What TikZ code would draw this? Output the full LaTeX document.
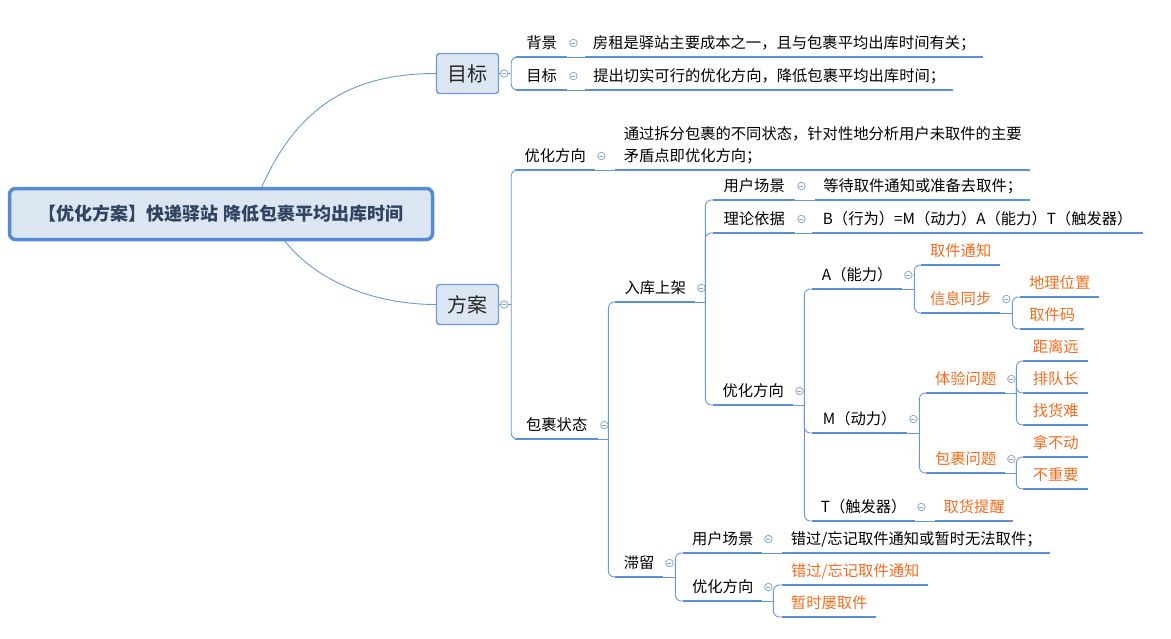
\documentclass[tikz,border=0pt]{standalone}
\usepackage{fontspec}
\setmainfont{Noto Sans CJK SC}
\usetikzlibrary{calc}
\definecolor{ulcol}{RGB}{91,143,214}
\definecolor{lncol}{RGB}{105,152,215}
\definecolor{boxfill}{RGB}{220,230,242}
\definecolor{rootbd}{RGB}{86,138,212}
\definecolor{boxbd}{RGB}{110,155,215}
\definecolor{roottxt}{RGB}{48,68,98}
\definecolor{orng}{RGB}{242,108,30}
\definecolor{cbcol}{RGB}{140,165,205}
\begin{document}
\begin{tikzpicture}[x=1pt,y=-1pt,
  topic/.style={anchor=south west, inner xsep=0pt, inner ysep=0pt, text height=12pt, text depth=8.3pt,
    font=\fontsize{15.3pt}{22pt}\selectfont, text=black},
  otopic/.style={topic, text=orng},
  ulline/.style={draw=ulcol, line width=2.8pt},
  conn/.style={draw=lncol, line width=0.9pt},
  brace/.style={conn, rounded corners=6pt},
  root/.style={draw=rootbd, line width=3.5pt, fill=boxfill, rounded corners=6pt,
    minimum width=423pt, minimum height=51pt, text=roottxt, font=\fontsize{18pt}{20pt}\selectfont\bfseries},
  mainbox/.style={draw=boxbd, line width=1.4pt, fill=boxfill, rounded corners=3pt,
    minimum width=62pt, minimum height=40pt, font=\fontsize{20pt}{24pt}\selectfont, text=black!85},
  cb/.style={circle, draw=cbcol, fill=white, line width=0.8pt, minimum size=7.5pt, inner sep=0pt,
    path picture={\draw[cbcol, line width=0.8pt] ([xshift=-2pt]path picture bounding box.center) -- ([xshift=2pt]path picture bounding box.center);}}
]
\useasboundingbox (0,0) rectangle (1171,638);

% root and main boxes
\node[root] (root) at (221,214) {【优化方案】快递驿站 降低包裹平均出库时间};
\node[mainbox] (mu) at (467.5,73.5) {目标};
\node[mainbox] (fa) at (467.5,304.5) {方案};

% topics
\node[topic, minimum width=51pt] (bj) at (516,57) {背景};
\node[topic, minimum width=398pt] (bjc) at (585,57) {房租是驿站主要成本之一，且与包裹平均出库时间有关；};
\node[topic, minimum width=51pt] (mb) at (516,90) {目标};
\node[topic, minimum width=368pt] (mbc) at (585,90) {提出切实可行的优化方向，降低包裹平均出库时间；};

\node[topic, minimum width=80pt] (fa1) at (515,170) {优化方向};
\node[topic, minimum width=415pt, align=left] (fa1c) at (615,170) {通过拆分包裹的不同状态，针对性地分析用户未取件的主要\\矛盾点即优化方向；};
\node[topic, minimum width=83pt] (fa2) at (515,439) {包裹状态};

\node[topic, minimum width=80pt] (rk) at (615,302) {入库上架};
\node[topic, minimum width=48pt] (zl) at (615,577) {滞留};

\node[topic, minimum width=82pt] (rk1) at (713,200) {用户场景};
\node[topic, minimum width=215pt] (rk1c) at (815,200) {等待取件通知或准备去取件；};
\node[topic, minimum width=82pt] (rk2) at (713,233) {理论依据};
\node[topic, minimum width=331pt] (rk2c) at (812,233) {B（行为）=M（动力）A（能力）T（触发器）};
\node[topic, minimum width=80pt] (rk3) at (713,405) {优化方向};

\node[topic, minimum width=90pt] (A) at (812,289) {A（能力）};
\node[topic, minimum width=95pt] (M) at (812,433) {M（动力）};
\node[topic, minimum width=103pt] (T) at (812,521) {T（触发器）};
\node[otopic, minimum width=78pt] (Tc) at (935,521) {取货提醒};

\node[otopic, minimum width=79pt] (A1) at (921,265) {取件通知};
\node[otopic, minimum width=79pt] (A2) at (921,313) {信息同步};
\node[otopic, minimum width=79pt] (A21) at (1020,297) {地理位置};
\node[otopic, minimum width=64pt] (A22) at (1020,329) {取件码};

\node[otopic, minimum width=79pt] (M1) at (926,393) {体验问题};
\node[otopic, minimum width=79pt] (M2) at (926,473) {包裹问题};
\node[otopic, minimum width=65pt] (M11) at (1023,361) {距离远};
\node[otopic, minimum width=65pt] (M12) at (1023,393) {排队长};
\node[otopic, minimum width=65pt] (M13) at (1023,425) {找货难};
\node[otopic, minimum width=65pt] (M21) at (1023,457) {拿不动};
\node[otopic, minimum width=65pt] (M22) at (1023,489) {不重要};

\node[topic, minimum width=79pt] (zl1) at (683,553) {用户场景};
\node[topic, minimum width=268pt] (zl1c) at (782,553) {错过/忘记取件通知或暂时无法取件；};
\node[topic, minimum width=79pt] (zl2) at (683,601) {优化方向};
\node[otopic, minimum width=146pt] (zl21) at (782,585) {错过/忘记取件通知};
\node[otopic, minimum width=94pt] (zl22) at (782,617) {暂时屡取件};

% underlines
\foreach \n in {bj,bjc,mb,mbc,fa1,fa1c,fa2,rk,zl,rk1,rk1c,rk2,rk2c,rk3,A,M,T,Tc,A1,A2,A21,A22,M1,M2,M11,M12,M13,M21,M22,zl1,zl1c,zl2,zl21,zl22}
  \draw[ulline] (\n.south west) -- (\n.south east);

% root curves
\draw[conn] ($(root.north west)!0.596!(root.north east)$) .. controls (300,100) and (360,73.5) .. (mu.west);
\draw[conn] ($(root.south west)!0.65!(root.south east)$) .. controls (320,285) and (380,304.5) .. (fa.west);

% single-child connectors
\foreach \a/\b in {bj/bjc,mb/mbc,fa1/fa1c,rk1/rk1c,rk2/rk2c,T/Tc,zl1/zl1c}
  \draw[conn] (\a.south east) -- (\b.south west);

% brace connectors
\draw[conn] (mu.east) -- ++(12,0) coordinate (jmu);
\foreach \c in {bj,mb} \draw[brace] (jmu) |- (\c.south west);
\draw[conn] (fa.east) -- ++(12,0) coordinate (jfa);
\foreach \c in {fa1,fa2} \draw[brace] (jfa) |- (\c.south west);
\draw[conn] (fa2.south east) -- ++(10,0) coordinate (jfa2);
\foreach \c in {rk,zl} \draw[brace] (jfa2) |- (\c.south west);
\draw[conn] (rk.south east) -- ++(10,0) coordinate (jrk);
\foreach \c in {rk1,rk2,rk3} \draw[brace] (jrk) |- (\c.south west);
\draw[conn] (rk3.south east) -- ++(11,0) coordinate (jrk3);
\foreach \c in {A,M,T} \draw[brace] (jrk3) |- (\c.south west);
\draw[conn] (A.south east) -- ++(12,0) coordinate (jA);
\foreach \c in {A1,A2} \draw[brace] (jA) |- (\c.south west);
\draw[conn] (A2.south east) -- ++(12,0) coordinate (jA2);
\foreach \c in {A21,A22} \draw[brace] (jA2) |- (\c.south west);
\draw[conn] (M.south east) -- ++(12,0) coordinate (jM);
\foreach \c in {M1,M2} \draw[brace] (jM) |- (\c.south west);
\draw[conn] (M1.south east) -- ++(11,0) coordinate (jM1);
\foreach \c in {M11,M12,M13} \draw[brace] (jM1) |- (\c.south west);
\draw[conn] (M2.south east) -- ++(11,0) coordinate (jM2);
\foreach \c in {M21,M22} \draw[brace] (jM2) |- (\c.south west);
\draw[conn] (zl.south east) -- ++(12,0) coordinate (jzl);
\foreach \c in {zl1,zl2} \draw[brace] (jzl) |- (\c.south west);
\draw[conn] (zl2.south east) -- ++(11,0) coordinate (jzl2);
\foreach \c in {zl21,zl22} \draw[brace] (jzl2) |- (\c.south west);

% collapse buttons
\node[cb] (cmu) at ($(mu.east)+(5,0)$) {};
\node[cb] (cfa) at ($(fa.east)+(5,0)$) {};
\foreach \n in {bj,mb,fa1,fa2,rk,zl,rk1,rk2,rk3,A,M,T,A2,M1,M2,zl1,zl2}
  \node[cb] (c\n) at ($(\n.south east)+(6,-14)$) {};
\end{tikzpicture}
\end{document}
